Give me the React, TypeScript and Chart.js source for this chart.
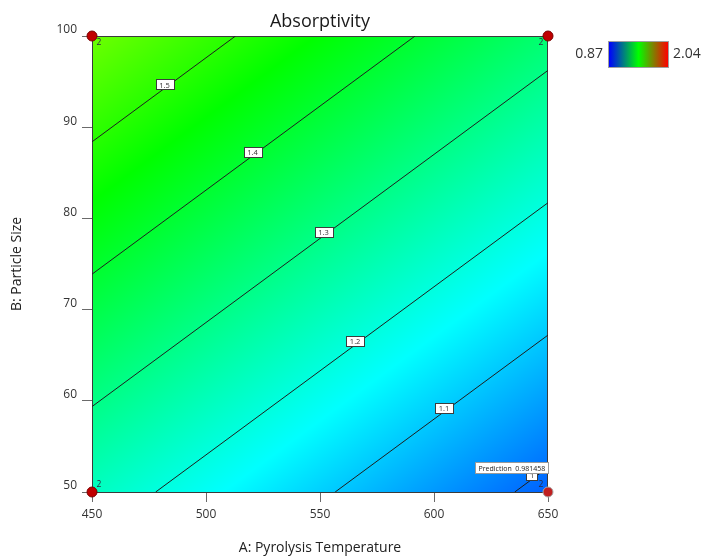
import React, { useEffect, useRef } from 'react';
import { Chart, registerables } from 'chart.js';

Chart.register(...registerables);

const TITLE = 'Absorptivity';
const X_TITLE = 'A: Pyrolysis Temperature';
const Y_TITLE = 'B: Particle Size';
const X_RANGE = [450, 650];
const Y_RANGE = [50, 100];
const X_STEP = 50;
const Y_STEP = 10;
// linear response surface: intercept, coefficient of A, coefficient of B
const MODEL = [1.462458, -0.00127, 0.00689];
const CONTOUR_LEVELS = [1.0, 1.1, 1.2, 1.3, 1.4, 1.5];
const CONTOUR_LABEL_A = [643, 604.4, 565.4, 551.5, 520.4, 481.8];
const DESIGN_A = [450, 450, 650, 650];
const DESIGN_B = [50, 100, 50, 100];
const DESIGN_REPS = [2, 2, 2, 2];
const PREDICTION_AT = [650, 50];
const COLOR_RANGE = [0.87, 2.04];
const COLOR_STOPS = ['#0000ff', '#00ffff', '#00ff00', '#ffff00', '#ff0000'];
const LEGEND_STOPS = ['#0000ff', '#00ff00', '#ff0000'];

const FONT = "'Open Sans', 'Noto Sans', sans-serif";

function modelValue(a: number, b: number) {
  return MODEL[0] + MODEL[1] * a + MODEL[2] * b;
}
function bOnContour(level: number, a: number) {
  return (level - MODEL[0] - MODEL[1] * a) / MODEL[2];
}
function aOnContour(level: number, b: number) {
  return (level - MODEL[0] - MODEL[2] * b) / MODEL[1];
}
function contourSegment(level: number) {
  const pts: { x: number; y: number }[] = [];
  for (const a of X_RANGE) {
    const b = bOnContour(level, a);
    if (b >= Y_RANGE[0] && b <= Y_RANGE[1]) pts.push({ x: a, y: b });
  }
  for (const b of Y_RANGE) {
    const a = aOnContour(level, b);
    if (a > X_RANGE[0] && a < X_RANGE[1]) pts.push({ x: a, y: b });
  }
  pts.sort((p, q) => p.x - q.x);
  return pts;
}
function hexRgb(h: string) {
  const n = parseInt(h.slice(1), 16);
  return [(n >> 16) & 255, (n >> 8) & 255, n & 255];
}
const STOP_RGB = COLOR_STOPS.map(hexRgb);
function colorFor(v: number) {
  const t = Math.min(1, Math.max(0, (v - COLOR_RANGE[0]) / (COLOR_RANGE[1] - COLOR_RANGE[0])));
  const seg = t * (STOP_RGB.length - 1);
  const i = Math.min(STOP_RGB.length - 2, Math.floor(seg));
  const f = seg - i;
  const c0 = STOP_RGB[i];
  const c1 = STOP_RGB[i + 1];
  return [0, 1, 2].map((k) => Math.round(c0[k] + (c1[k] - c0[k]) * f));
}

const heatmapPlugin = {
  id: 'heatmap',
  beforeDatasetsDraw(chart: any) {
    const { ctx, chartArea, scales } = chart;
    const x0 = Math.round(chartArea.left);
    const y0 = Math.round(chartArea.top);
    const w = Math.round(chartArea.right) - x0;
    const h = Math.round(chartArea.bottom) - y0;
    const img = ctx.createImageData(w, h);
    for (let j = 0; j < h; j++) {
      const b = scales.y.getValueForPixel(y0 + j + 0.5);
      for (let i = 0; i < w; i++) {
        const a = scales.x.getValueForPixel(x0 + i + 0.5);
        const c = colorFor(modelValue(a, b));
        const k = (j * w + i) * 4;
        img.data[k] = c[0];
        img.data[k + 1] = c[1];
        img.data[k + 2] = c[2];
        img.data[k + 3] = 255;
      }
    }
    ctx.putImageData(img, x0, y0);
    ctx.save();
    ctx.strokeStyle = '#3a3a3a';
    ctx.lineWidth = 1;
    ctx.strokeRect(x0 + 0.5, y0 + 0.5, w - 1, h);
    ctx.restore();
  },
};

const overlayPlugin = {
  id: 'overlay',
  afterDatasetsDraw(chart: any) {
    const { ctx, scales } = chart;
    const xs = scales.x;
    const ys = scales.y;
    ctx.save();
    // contour labels
    ctx.font = `7.5px ${FONT}`;
    ctx.textAlign = 'center';
    ctx.textBaseline = 'middle';
    CONTOUR_LEVELS.forEach((lv, idx) => {
      const a = CONTOUR_LABEL_A[idx];
      const b = bOnContour(lv, a);
      const px = xs.getPixelForValue(a);
      const py = ys.getPixelForValue(b) - 4;
      const txt = lv === 1 ? '1' : lv.toFixed(1);
      const bw = Math.max(10, ctx.measureText(txt).width + 7);
      const bh = 10;
      ctx.fillStyle = '#ffffff';
      ctx.fillRect(Math.round(px - bw / 2) + 0.5, Math.round(py - bh / 2) + 0.5, Math.round(bw), bh);
      ctx.strokeStyle = '#3c3c3c';
      ctx.lineWidth = 1;
      ctx.strokeRect(Math.round(px - bw / 2) + 0.5, Math.round(py - bh / 2) + 0.5, Math.round(bw), bh);
      ctx.fillStyle = '#333333';
      ctx.fillText(txt, px, py + 1);
    });
    // replicate counts
    ctx.font = `8.5px ${FONT}`;
    ctx.fillStyle = '#2a2a40';
    DESIGN_A.forEach((a, i) => {
      const b = DESIGN_B[i];
      const px = xs.getPixelForValue(a);
      const py = ys.getPixelForValue(b);
      const dx = a === X_RANGE[0] ? 7 : -7;
      const dy = b === Y_RANGE[1] ? 7 : -7;
      ctx.fillText(String(DESIGN_REPS[i]), px + dx, py + dy);
    });
    // prediction box
    const pv = modelValue(PREDICTION_AT[0], PREDICTION_AT[1]);
    const ptxt = 'Prediction  ' + pv.toFixed(6);
    ctx.font = `7px ${FONT}`;
    const tw = ctx.measureText(ptxt).width;
    const bw = Math.round(tw + 6);
    const bh = 11;
    const right = Math.round(xs.getPixelForValue(PREDICTION_AT[0]));
    const bottom = Math.round(ys.getPixelForValue(PREDICTION_AT[1])) - 19;
    ctx.fillStyle = '#ffffff';
    ctx.fillRect(right - bw + 0.5, bottom - bh + 0.5, bw, bh);
    ctx.strokeStyle = '#9a9a9a';
    ctx.strokeRect(right - bw + 0.5, bottom - bh + 0.5, bw, bh);
    ctx.fillStyle = '#222222';
    ctx.textAlign = 'left';
    ctx.fillText(ptxt, right - bw + 3.5, bottom - bh / 2 + 1);
    ctx.restore();
  },
  afterDraw(chart: any) {
    const { ctx, chartArea } = chart;
    ctx.save();
    // title
    ctx.font = `18px ${FONT}`;
    ctx.fillStyle = '#1a1a1a';
    ctx.textAlign = 'center';
    ctx.textBaseline = 'alphabetic';
    ctx.fillText(TITLE, (chartArea.left + chartArea.right) / 2, 27);
    // colour legend
    const lx = 609;
    const ly = 42;
    const lw = 59;
    const lh = 25;
    const g = ctx.createLinearGradient(lx, 0, lx + lw, 0);
    LEGEND_STOPS.forEach((c, i) => g.addColorStop(i / (LEGEND_STOPS.length - 1), c));
    ctx.fillStyle = g;
    ctx.fillRect(lx, ly, lw, lh);
    ctx.strokeStyle = '#a0a0a0';
    ctx.lineWidth = 1;
    ctx.strokeRect(lx - 0.5, ly - 0.5, lw + 1, lh + 1);
    ctx.font = `14px ${FONT}`;
    ctx.fillStyle = '#333333';
    ctx.textBaseline = 'middle';
    ctx.textAlign = 'right';
    ctx.fillText(COLOR_RANGE[0].toFixed(2), lx - 6, ly + lh / 2);
    ctx.textAlign = 'left';
    ctx.fillText(COLOR_RANGE[1].toFixed(2), lx + lw + 5, ly + lh / 2);
    ctx.restore();
  },
};

export default function App() {
  const ref = useRef<HTMLCanvasElement | null>(null);
  useEffect(() => {
    if (!ref.current) return;
    const designData = DESIGN_A.map((a, i) => ({ x: a, y: DESIGN_B[i] }));
    const contourSets = CONTOUR_LEVELS.map((lv) => ({
      type: 'line' as const,
      label: 'contour ' + lv,
      data: contourSegment(lv),
      showLine: true,
      borderColor: '#1e1e1e',
      borderWidth: 1,
      pointRadius: 0,
      fill: false,
    }));
    const chart = new Chart(ref.current, {
      type: 'scatter',
      data: {
        datasets: [
          {
            label: 'design points',
            data: designData,
            pointRadius: 5,
            pointBorderWidth: 1,
            backgroundColor: DESIGN_A.map((a, i) =>
              a === PREDICTION_AT[0] && DESIGN_B[i] === PREDICTION_AT[1] ? '#c02020' : '#c00000'
            ),
            borderColor: DESIGN_A.map((a, i) =>
              a === PREDICTION_AT[0] && DESIGN_B[i] === PREDICTION_AT[1] ? '#a8a8a8' : '#7a0000'
            ),
            clip: false,
          } as any,
          ...contourSets,
        ],
      },
      options: {
        responsive: false,
        animation: false,
        devicePixelRatio: 1,
        layout: { padding: { left: 0, right: 157, top: 36, bottom: 0 } },
        plugins: {
          legend: { display: false },
          title: { display: false },
          tooltip: { enabled: false },
        },
        scales: {
          x: {
            type: 'linear',
            min: X_RANGE[0],
            max: X_RANGE[1],
            border: { display: false },
            grid: { drawOnChartArea: false, drawTicks: true, tickLength: 10, color: '#6a6a6a' },
            ticks: {
              stepSize: X_STEP,
              padding: 5,
              color: '#333333',
              font: { family: FONT, size: 12 },
            },
            title: {
              display: true,
              text: X_TITLE,
              color: '#222222',
              font: { family: FONT, size: 14 },
              padding: { top: 4, bottom: 4 },
            },
            afterFit: (s: any) => {
              s.height = 68;
            },
          },
          y: {
            type: 'linear',
            min: Y_RANGE[0],
            max: Y_RANGE[1],
            border: { display: false },
            grid: { drawOnChartArea: false, drawTicks: true, tickLength: 10, color: '#6a6a6a' },
            ticks: {
              stepSize: Y_STEP,
              padding: 5,
              labelOffset: -6,
              color: '#333333',
              font: { family: FONT, size: 12 },
            },
            title: {
              display: true,
              text: Y_TITLE,
              color: '#222222',
              font: { family: FONT, size: 14 },
              padding: { top: 9, bottom: 4 },
            },
            afterFit: (s: any) => {
              s.width = 92;
            },
          },
        },
      },
      plugins: [heatmapPlugin, overlayPlugin],
    });
    return () => chart.destroy();
  }, []);
  return (
    <div style={{ position: 'absolute', left: 0, top: 0, width: 705, height: 560 }}>
      <canvas ref={ref} width={705} height={560} style={{ display: 'block' }} />
    </div>
  );
}
